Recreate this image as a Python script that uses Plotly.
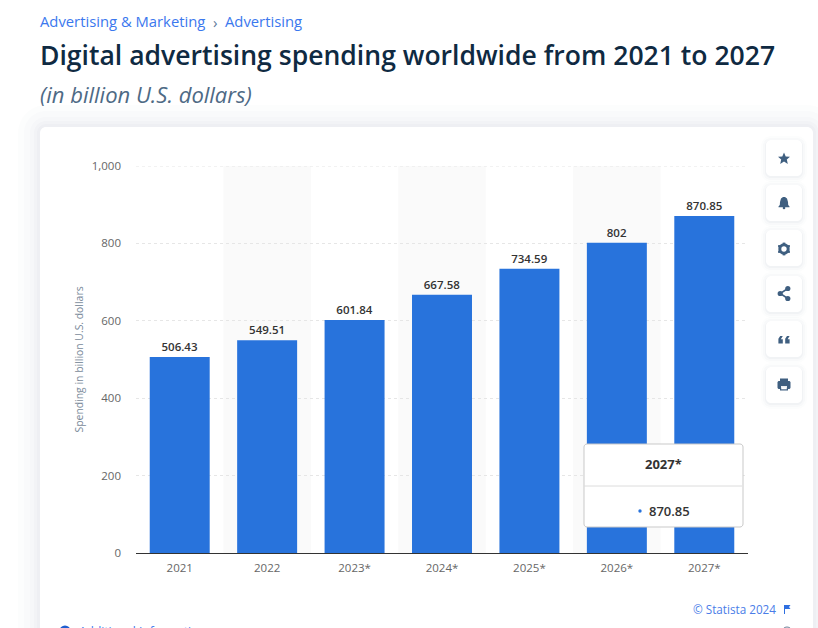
import plotly.graph_objects as go

years = ["2021", "2022", "2023*", "2024*", "2025*", "2026*", "2027*"]
spending = [506.43, 549.51, 601.84, 667.58, 734.59, 802, 870.85]
value_labels = ["506.43", "549.51", "601.84", "667.58", "734.59", "802", "870.85"]
y_ticks = [0, 200, 400, 600, 800, 1000]
y_tick_labels = ["0", "200", "400", "600", "800", "1,000"]
shaded_years = [1, 3, 5]

W, H = 818, 628
L, R, T, B = 136, 748, 166, 553
FONT = "Open Sans"


def fx(px):
    return (px - L) / (R - L)


def fy(py):
    return (B - py) / (B - T)


def rounded(x0, y0, x1, y1, r):
    k = 0.45 * r
    pts = [
        f"M{fx(x0 + r)},{fy(y0)}", f"L{fx(x1 - r)},{fy(y0)}",
        f"C{fx(x1 - k)},{fy(y0)} {fx(x1)},{fy(y0 + k)} {fx(x1)},{fy(y0 + r)}",
        f"L{fx(x1)},{fy(y1 - r)}",
        f"C{fx(x1)},{fy(y1 - k)} {fx(x1 - k)},{fy(y1)} {fx(x1 - r)},{fy(y1)}",
        f"L{fx(x0 + r)},{fy(y1)}",
        f"C{fx(x0 + k)},{fy(y1)} {fx(x0)},{fy(y1 - k)} {fx(x0)},{fy(y1 - r)}",
        f"L{fx(x0)},{fy(y0 + r)}",
        f"C{fx(x0)},{fy(y0 + k)} {fx(x0 + k)},{fy(y0)} {fx(x0 + r)},{fy(y0)}Z",
    ]
    return " ".join(pts)


def poly(cx, cy, pts):
    return "M" + " L".join(f"{fx(cx + a)},{fy(cy + b)}" for a, b in pts) + " Z"


def shape_path(path, fill, layer="below", line=None, width=0):
    return dict(type="path", xref="paper", yref="paper", path=path, fillcolor=fill,
                line=dict(color=line or "rgba(0,0,0,0)", width=width), layer=layer)


def circle(cx, cy, r, fill, layer="below", line=None, width=0):
    return dict(type="circle", xref="paper", yref="paper", x0=fx(cx - r), x1=fx(cx + r),
                y0=fy(cy + r), y1=fy(cy - r), fillcolor=fill, layer=layer,
                line=dict(color=line or "rgba(0,0,0,0)", width=width))


def label(px, py, text, size, color, anchor="left", weight=400, style="normal"):
    return dict(xref="paper", yref="paper", x=fx(px), y=fy(py), text=text, showarrow=False,
                xanchor=anchor, yanchor="middle", align=anchor,
                font=dict(family=FONT, size=size, color=color, weight=weight, style=style))


shapes = []

# soft card shadow
for grow, alpha in [(22, 0.012), (16, 0.014), (10, 0.016), (6, 0.018), (3, 0.02)]:
    shapes.append(shape_path(rounded(40 - grow, 127 - grow, 813 + grow, 660, 6 + grow),
                             f"rgba(40,60,100,{alpha})"))
shapes.append(shape_path(rounded(40, 127, 813, 660, 6), "#ffffff"))

# alternating column bands
for i in shaded_years:
    shapes.append(dict(type="rect", xref="x", yref="y", x0=i - 0.5, x1=i + 0.5, y0=0, y1=1000,
                       fillcolor="#fafafa", line=dict(width=0), layer="below"))

# top gridline, which the axis would drop at the edge of its range
shapes.append(dict(type="line", xref="x", yref="y", x0=-0.5, x1=6.5, y0=y_ticks[-1], y1=y_ticks[-1],
                   line=dict(color="#e6e6e6", width=1, dash="dot"), layer="below"))

# side buttons
ICON = "#3f5f80"
buttons = [(140, 176), (185, 221), (230, 266), (276, 312), (321, 357), (367, 403)]
for y0, y1 in buttons:
    for grow, alpha in [(5, 0.012), (3, 0.018), (1, 0.03)]:
        shapes.append(shape_path(rounded(766 - grow, y0 - grow + 1, 802 + grow, y1 + grow + 1, 5 + grow),
                                 f"rgba(40,60,100,{alpha})"))
    shapes.append(shape_path(rounded(766, y0, 802, y1, 5), "#ffffff"))

cx = 784
# star
shapes.append(shape_path(poly(cx, 158.5, [(0, -6), (1.7, -2), (6, -1.7), (2.8, 1.1), (3.8, 5.4), (0, 3.1),
                                          (-3.8, 5.4), (-2.8, 1.1), (-6, -1.7), (-1.7, -2)]), ICON, "above"))
# bell
shapes.append(shape_path(poly(cx, 203, [(-1, -6), (1, -6), (3, -4.5), (4, -1), (4.2, 2), (5.5, 3.6), (5.5, 4.2),
                                        (-5.5, 4.2), (-5.5, 3.6), (-4.2, 2), (-4, -1), (-3, -4.5)]), ICON, "above"))
shapes.append(circle(cx, 208, 1.3, ICON, "above"))
# gear
shapes.append(circle(cx, 249, 4.2, "#ffffff", "above", ICON, 3))
for a, b in [(-1.3, -6.4), (-1.3, 4.2)]:
    shapes.append(shape_path(poly(cx, 249, [(a, b), (a + 2.6, b), (a + 2.6, b + 2.2), (a, b + 2.2)]), ICON, "above"))
for a, b in [(-5.9, -3.9), (3.9, -3.9), (-5.9, 1.7), (3.9, 1.7)]:
    shapes.append(shape_path(poly(cx, 249, [(a, b), (a + 2, b), (a + 2, b + 2.2), (a, b + 2.2)]), ICON, "above"))
# share
share = [(cx + 3.8, 288.5), (cx - 3.8, 293.5), (cx + 3.8, 298.5)]
shapes.append(shape_path(f"M{fx(share[0][0])},{fy(share[0][1])} L{fx(share[1][0])},{fy(share[1][1])} "
                         f"L{fx(share[2][0])},{fy(share[2][1])}", "rgba(0,0,0,0)", "above", ICON, 1.5))
for sx, sy in share:
    shapes.append(circle(sx, sy, 2.6, ICON, "above"))
# quote marks
for dx in (-5.6, 1.2):
    shapes.append(shape_path(poly(cx + dx, 340, [(1.8, -4), (4.4, -4), (2.4, -0.8), (4.4, -0.8), (4.4, 3.6), (0, 3.6), (0, -1.2)]),
                             ICON, "above"))
# printer
shapes.append(shape_path(poly(cx, 384.5, [(-4, -6), (4, -6), (4, -2.5), (-4, -2.5)]), ICON, "above"))
shapes.append(shape_path(rounded(cx - 6.5, 381, cx + 6.5, 389, 1.5), ICON, "above"))
shapes.append(shape_path(poly(cx, 384.5, [(-3, 1.6), (3, 1.6), (3, 4.2), (-3, 4.2)]), "#ffffff", "above"))
shapes.append(shape_path(poly(cx, 384.5, [(-4, 3), (4, 3), (4, 6), (-4, 6)]), ICON, "above"))
shapes.append(shape_path(poly(cx, 384.5, [(-2.8, 2.6), (2.8, 2.6), (2.8, 4.8), (-2.8, 4.8)]), "#ffffff", "above"))

# tooltip box
shapes.append(shape_path(rounded(584, 444, 743, 527, 3), "#ffffff", "above", "#c9c9c9", 1))
shapes.append(dict(type="line", xref="paper", yref="paper", x0=fx(584), x1=fx(742), y0=fy(486), y1=fy(486),
                   line=dict(color="#dcdcdc", width=1), layer="above"))
shapes.append(circle(640, 511, 1.7, "#2873dc", "above"))

# footer marks
shapes.append(shape_path(poly(787, 609, [(-3, -4), (3.5, -4), (2, -2), (3.5, 0), (-2, 0), (-2, 5), (-3, 5)]),
                         "#2f6fe0", "above"))
shapes.append(circle(65, 631, 5.5, "#1f5fd0", "above"))
shapes.append(circle(787, 632, 5, "#ffffff", "above", "#6a7f96", 1))

annotations = [
    label(37.5, 20.5, "Advertising &amp; Marketing", 14.8, "#3b78ee"),
    label(211, 21.5, "›", 15, "#5c7a99"),
    label(223, 20.5, "Advertising", 14.8, "#3b78ee"),
    label(37.5, 54.5, "Digital advertising spending worldwide from 2021 to 2027", 26.55, "#0f2a42", weight=600),
    label(37.5, 94, "(in billion U.S. dollars)", 22, "#4e6a85", style="italic"),
    label(663.5, 464, years[-1], 13, "#333333", "center", 700),
    label(669.5, 511, value_labels[-1], 13, "#333333", "center", 600),
    label(778, 609, "© Statista 2024", 11.7, "#4a7de8", "right"),
    label(77, 631, "Additional Information", 12, "#3b78ee"),
    dict(xref="paper", yref="paper", x=fx(78), y=fy(359.5), text="Spending in billion U.S. dollars",
         showarrow=False, textangle=-90, xanchor="center", yanchor="middle",
         font=dict(family=FONT, size=10.4, color="#7a8a9a")),
]

fig = go.Figure(go.Bar(
    x=list(range(len(years))), y=spending, width=0.686,
    marker=dict(color="#2873dc", line=dict(width=0)),
    text=value_labels, textposition="outside", cliponaxis=False,
    textfont=dict(family=FONT, size=11.5, color="#333333", weight=600),
    hoverinfo="skip",
))
fig.update_layout(
    width=W, height=H,
    margin=dict(l=L, r=W - R, t=T, b=H - B, pad=0),
    paper_bgcolor="#ffffff", plot_bgcolor="rgba(0,0,0,0)",
    showlegend=False, bargap=0.314,
    shapes=shapes, annotations=annotations,
    xaxis=dict(range=[-0.5, 6.5], tickmode="array", tickvals=list(range(len(years))), ticktext=years,
               showgrid=False, ticks="", showline=True, linecolor="#333333", linewidth=1,
               tickfont=dict(family=FONT, size=11.5, color="#666666"), ticklabelstandoff=4, zeroline=False),
    yaxis=dict(range=[0, 1000], tickmode="array", tickvals=y_ticks, ticktext=y_tick_labels,
               showgrid=True, gridcolor="#e6e6e6", griddash="dot", gridwidth=1, zeroline=False,
               ticks="", showline=False, ticklabelstandoff=14,
               tickfont=dict(family=FONT, size=11.5, color="#666666")),
)
fig.write_html("out.html", config=dict(displayModeBar=False),
               post_script="document.body.style.margin='0';document.body.style.overflow='hidden';")
